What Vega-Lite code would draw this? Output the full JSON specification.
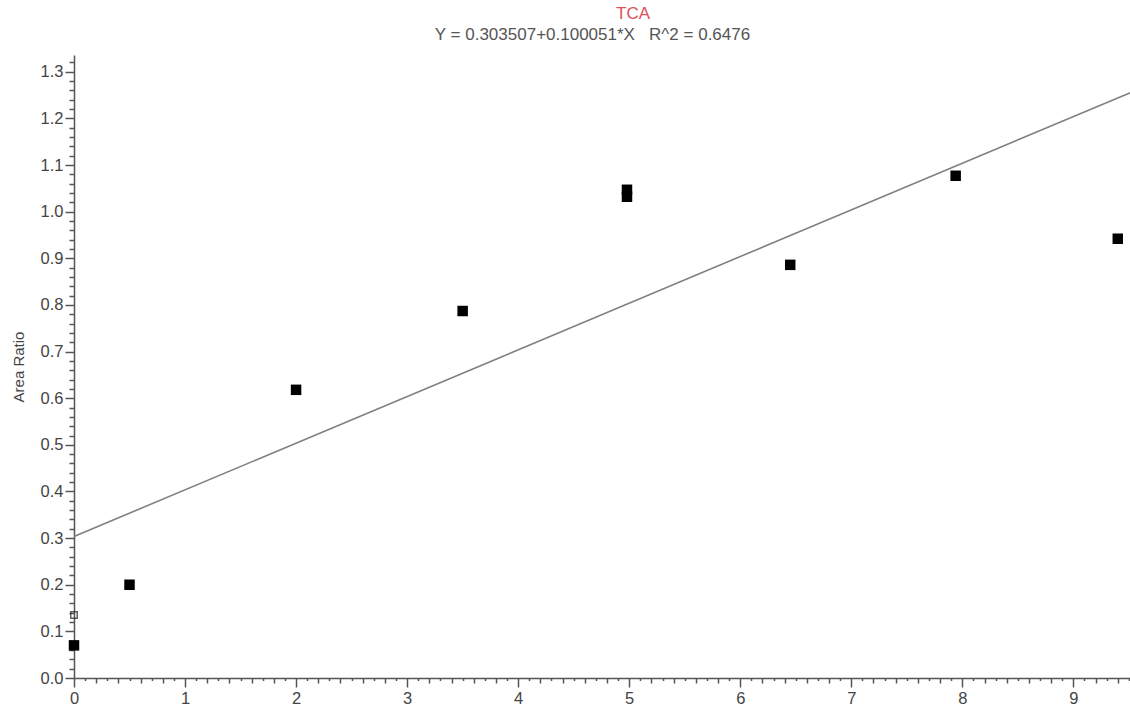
{
  "$schema": "https://vega.github.io/schema/vega-lite/v6.json",
  "width": 1056,
  "height": 623,
  "autosize": {"type": "none"},
  "padding": {"left": 74, "top": 55, "right": 0, "bottom": 28},
  "background": "white",
  "config": {
    "view": {"stroke": null},
    "font": "Liberation Sans",
    "axis": {
      "grid": false,
      "domainColor": "#555555",
      "domainWidth": 1.5,
      "tickColor": "#555555",
      "tickWidth": 1.5,
      "labelColor": "#444444",
      "labelFont": "Liberation Sans",
      "labelFontSize": 16.5,
      "labelOverlap": false,
      "labelBound": false,
      "labelFlush": false,
      "titleColor": "#444444",
      "titleFont": "Liberation Sans",
      "titleFontWeight": "normal"
    }
  },
  "title": {
    "text": "TCA",
    "color": "#e0505a",
    "font": "Liberation Sans",
    "fontSize": 17,
    "fontWeight": "normal",
    "anchor": "middle",
    "dx": 31,
    "offset": 2
  },
  "datasets": {
    "fit": [
      {"amount": 0, "area_ratio": 0.303507},
      {"amount": 9.52, "area_ratio": 1.255993}
    ],
    "standards": [
      {"amount": 0, "area_ratio": 0.07},
      {"amount": 0.5, "area_ratio": 0.2},
      {"amount": 2, "area_ratio": 0.618},
      {"amount": 3.5, "area_ratio": 0.787},
      {"amount": 4.98, "area_ratio": 1.032},
      {"amount": 4.98, "area_ratio": 1.047},
      {"amount": 6.45, "area_ratio": 0.886},
      {"amount": 7.94, "area_ratio": 1.077},
      {"amount": 9.4, "area_ratio": 0.942}
    ],
    "excluded": [
      {"amount": 0, "area_ratio": 0.135}
    ]
  },
  "layer": [
    {
      "data": {"name": "fit"},
      "mark": {"type": "line", "color": "#808080", "strokeWidth": 1.6, "clip": false},
      "encoding": {
        "x": {
          "field": "amount",
          "type": "quantitative",
          "scale": {"domain": [0, 9.51], "nice": false, "zero": false},
          "axis": {
            "orient": "top",
            "domain": false,
            "ticks": false,
            "labels": false,
            "title": "Y = 0.303507+0.100051*X\u00a0\u00a0\u00a0R^2 = 0.6476",
            "titleFontSize": 17,
            "titleColor": "#555555",
            "titleX": 518,
            "titlePadding": 12
          }
        },
        "y": {
          "field": "area_ratio",
          "type": "quantitative",
          "scale": {"domain": [0, 1.336], "nice": false, "zero": false},
          "axis": {
            "orient": "left",
            "title": "Area Ratio",
            "titleFontSize": 15,
            "titlePadding": 14,
            "values": [0,0.02,0.04,0.06,0.08,0.1,0.12,0.14,0.16,0.18,0.2,0.22,0.24,0.26,0.28,0.3,0.32,0.34,0.36,0.38,0.4,0.42,0.44,0.46,0.48,0.5,0.52,0.54,0.56,0.58,0.6,0.62,0.64,0.66,0.68,0.7,0.72,0.74,0.76,0.78,0.8,0.82,0.84,0.86,0.88,0.9,0.92,0.94,0.96,0.98,1,1.02,1.04,1.06,1.08,1.1,1.12,1.14,1.16,1.18,1.2,1.22,1.24,1.26,1.28,1.3,1.32],
            "labelExpr": "abs(datum.value * 10 - round(datum.value * 10)) < 0.001 ? format(datum.value, '.1f') : ''",
            "tickSize": {
              "condition": {"test": "abs(datum.value * 10 - round(datum.value * 10)) < 0.001", "value": 9},
              "value": 5
            },
            "labelPadding": 2
          }
        }
      }
    },
    {
      "data": {"name": "standards"},
      "mark": {"type": "square", "filled": true, "color": "#000000", "size": 110, "opacity": 1},
      "encoding": {
        "x": {
          "field": "amount",
          "type": "quantitative",
          "axis": {
            "orient": "bottom",
            "title": null,
            "values": [0,0.1,0.2,0.3,0.4,0.5,0.6,0.7,0.8,0.9,1,1.1,1.2,1.3,1.4,1.5,1.6,1.7,1.8,1.9,2,2.1,2.2,2.3,2.4,2.5,2.6,2.7,2.8,2.9,3,3.1,3.2,3.3,3.4,3.5,3.6,3.7,3.8,3.9,4,4.1,4.2,4.3,4.4,4.5,4.6,4.7,4.8,4.9,5,5.1,5.2,5.3,5.4,5.5,5.6,5.7,5.8,5.9,6,6.1,6.2,6.3,6.4,6.5,6.6,6.7,6.8,6.9,7,7.1,7.2,7.3,7.4,7.5,7.6,7.7,7.8,7.9,8,8.1,8.2,8.3,8.4,8.5,8.6,8.7,8.8,8.9,9,9.1,9.2,9.3,9.4,9.5],
            "labelExpr": "abs(datum.value - round(datum.value)) < 0.001 ? format(datum.value, 'd') : ''",
            "tickSize": {
              "condition": [
                {"test": "abs(datum.value - round(datum.value)) < 0.001", "value": 9},
                {"test": "abs(datum.value * 5 - round(datum.value * 5)) < 0.001", "value": 5}
              ],
              "value": 2.5
            },
            "labelPadding": 3
          }
        },
        "y": {"field": "area_ratio", "type": "quantitative", "axis": null}
      }
    },
    {
      "data": {"name": "excluded"},
      "mark": {"type": "square", "filled": false, "color": "#222222", "strokeWidth": 1.5, "size": 42, "clip": false},
      "encoding": {
        "x": {"field": "amount", "type": "quantitative", "axis": null},
        "y": {"field": "area_ratio", "type": "quantitative", "axis": null}
      }
    }
  ],
  "resolve": {"axis": {"x": "independent", "y": "independent"}}
}
